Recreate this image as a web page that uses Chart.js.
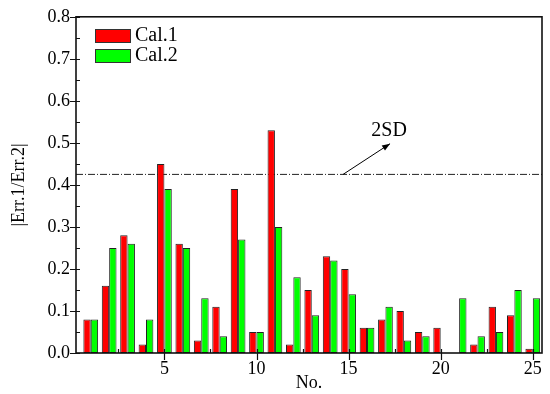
<!DOCTYPE html>
<html>
<head>
<meta charset="utf-8">
<script src="https://cdn.jsdelivr.net/npm/chart.js@4.4.1/dist/chart.umd.min.js"></script>
<style>
  html, body { margin: 0; padding: 0; background: #fff; }
  #wrap { width: 550px; height: 394px; }
</style>
</head>
<body>
<div id="wrap"><canvas id="chart" width="550" height="394"></canvas></div>
<script>
const caseNo = [1, 2, 3, 4, 5, 6, 7, 8, 9, 10, 11, 12, 13, 14, 15, 16, 17, 18, 19, 20, 21, 22, 23, 24, 25];
const cal1 = [0.08, 0.16, 0.28, 0.02, 0.45, 0.26, 0.03, 0.11, 0.39, 0.05, 0.53, 0.02, 0.15, 0.23, 0.20, 0.06, 0.08, 0.10, 0.05, 0.06, 0.00, 0.02, 0.11, 0.09, 0.01];
const cal2 = [0.08, 0.25, 0.26, 0.08, 0.39, 0.25, 0.13, 0.04, 0.27, 0.05, 0.30, 0.18, 0.09, 0.22, 0.14, 0.06, 0.11, 0.03, 0.04, 0.00, 0.13, 0.04, 0.05, 0.15, 0.13];
const seriesNames = ["Cal.1", "Cal.2"];
const sdLevel = 0.425;
const sdLabel = "2SD";
const xTicks = [5, 10, 15, 20, 25];
const yTicks = [0.0, 0.1, 0.2, 0.3, 0.4, 0.5, 0.6, 0.7, 0.8];

const serif = "'Liberation Serif', 'Times New Roman', serif";
const red = "#ff0000";
const green = "#00ff00";

const toPoints = vals => caseNo.map((n, i) => ({ x: n, y: vals[i] }));

const decor = {
    id: "decor",
    afterDraw(chart) {
        const ctx = chart.ctx;
        const xs = chart.scales.x, ys = chart.scales.y;
        const a = chart.chartArea;
        ctx.save();
        // frame
        ctx.strokeStyle = "#111";
        ctx.lineWidth = 1.6;
        ctx.strokeRect(a.left, a.top, a.right - a.left, a.bottom - a.top);
        // y ticks
        ctx.lineWidth = 1.2;
        ctx.beginPath();
        for (let v = 0; v <= 0.8001; v += 0.05) {
            const py = Math.round(ys.getPixelForValue(v)) + 0.5;
            const major = Math.abs(v * 10 - Math.round(v * 10)) < 1e-6;
            ctx.moveTo(a.left - (major ? 6 : 0), py);
            ctx.lineTo(a.left + 4, py);
        }
        // x ticks
        for (let v = 2.5; v <= 25.01; v += 2.5) {
            const px = Math.round(xs.getPixelForValue(v)) + 0.5;
            const major = v % 5 === 0;
            ctx.moveTo(px, a.bottom - 4);
            ctx.lineTo(px, a.bottom + (major ? 7 : 0));
        }
        ctx.stroke();

        // legend
        ctx.font = "20px " + serif;
        ctx.textBaseline = "middle";
        ctx.textAlign = "left";
        [red, green].forEach((c, i) => {
            const top = 29 + i * 20;
            ctx.fillStyle = c;
            ctx.fillRect(95, top, 36, 14);
            ctx.strokeStyle = "#333";
            ctx.lineWidth = 1;
            ctx.strokeRect(95.5, top + 0.5, 35, 13);
            ctx.fillStyle = "#000";
            ctx.fillText(seriesNames[i], 135, top + 7);
        });

        // arrow to 2SD label
        const x0 = xs.getPixelForValue(14.7), y0 = ys.getPixelForValue(sdLevel);
        const x1 = xs.getPixelForValue(17.25), y1 = ys.getPixelForValue(0.498);
        ctx.strokeStyle = "#000";
        ctx.lineWidth = 1;
        ctx.beginPath();
        ctx.moveTo(x0, y0);
        ctx.lineTo(x1, y1);
        ctx.stroke();
        const ang = Math.atan2(y1 - y0, x1 - x0);
        ctx.fillStyle = "#000";
        ctx.beginPath();
        ctx.moveTo(x1, y1);
        ctx.lineTo(x1 - 8 * Math.cos(ang) + 3 * Math.sin(ang), y1 - 8 * Math.sin(ang) - 3 * Math.cos(ang));
        ctx.lineTo(x1 - 8 * Math.cos(ang) - 3 * Math.sin(ang), y1 - 8 * Math.sin(ang) + 3 * Math.cos(ang));
        ctx.closePath();
        ctx.fill();
        ctx.font = "20px " + serif;
        ctx.textAlign = "center";
        ctx.fillText(sdLabel, xs.getPixelForValue(17.2), ys.getPixelForValue(0.53));
        ctx.restore();
    }
};

new Chart(document.getElementById("chart"), {
    type: "bar",
    data: {
        datasets: [
            {
                label: seriesNames[0],
                data: toPoints(cal1),
                backgroundColor: red,
                borderColor: "#222",
                borderWidth: 1,
                borderSkipped: false,
                categoryPercentage: 0.8,
                barPercentage: 1.0
            },
            {
                label: seriesNames[1],
                data: toPoints(cal2),
                backgroundColor: green,
                borderColor: "#222",
                borderWidth: 1,
                borderSkipped: false,
                categoryPercentage: 0.8,
                barPercentage: 1.0
            },
            {
                type: "line",
                label: sdLabel,
                data: [{ x: 0.2, y: sdLevel }, { x: 25.5, y: sdLevel }],
                borderColor: "#222",
                borderWidth: 1,
                borderDash: [7, 2, 1, 2],
                pointRadius: 0,
                fill: false
            }
        ]
    },
    options: {
        responsive: false,
        animation: false,
        events: [],
        layout: { padding: { top: 16, right: 8, left: 0, bottom: 0 } },
        plugins: {
            legend: { display: false },
            tooltip: { enabled: false }
        },
        scales: {
            x: {
                type: "linear",
                min: 0.2,
                max: 25.5,
                offset: false,
                grid: { display: false, drawTicks: false },
                border: { display: false },
                ticks: {
                    stepSize: 5,
                    includeBounds: false,
                    autoSkip: false,
                    maxRotation: 0,
                    padding: 5,
                    color: "#000",
                    font: { family: serif, size: 18 },
                    callback: v => (xTicks.includes(v) ? String(v) : "")
                },
                title: {
                    display: true,
                    text: "No.",
                    color: "#000",
                    font: { family: serif, size: 18 },
                    padding: { top: -4, bottom: 0 }
                },
                afterFit: s => { s.height = 41; }
            },
            y: {
                min: 0,
                max: 0.8,
                grid: { display: false, drawTicks: false },
                border: { display: false },
                ticks: {
                    stepSize: 0.1,
                    padding: 6,
                    color: "#000",
                    font: { family: serif, size: 18 },
                    callback: v => Number(v).toFixed(1)
                },
                title: {
                    display: true,
                    text: "|Err.1/Err.2|",
                    color: "#000",
                    font: { family: serif, size: 18 },
                    padding: { top: 8, bottom: 0 }
                },
                afterFit: s => { s.width = 76; }
            }
        }
    },
    plugins: [decor]
});
</script>
</body>
</html>
